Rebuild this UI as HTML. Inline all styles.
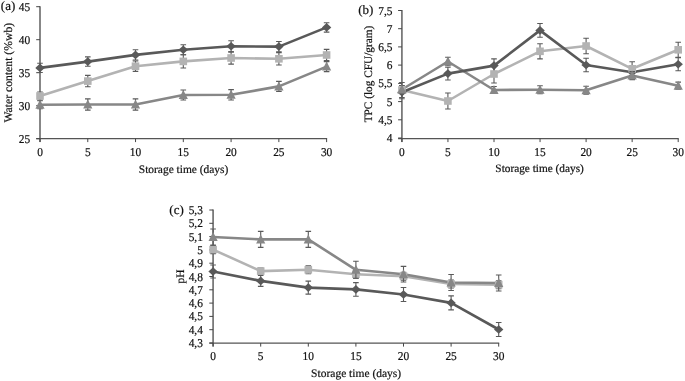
<!DOCTYPE html>
<html><head><meta charset="utf-8"><style>
html,body{margin:0;padding:0;background:#fff;}
svg{display:block;filter:blur(0.4px);}
text{font-family:"Liberation Serif", serif;fill:#111111;text-rendering:geometricPrecision;stroke:#111111;stroke-width:0.2px;}
</style></head><body>
<svg width="685" height="381" viewBox="0 0 685 381">
<rect width="685" height="381" fill="#fff"/>
<line x1="40.0" y1="6.2" x2="40.0" y2="142.1" stroke="#7a7a7a" stroke-width="1.8"/>
<line x1="36.2" y1="138.6" x2="327.12" y2="138.6" stroke="#555555" stroke-width="1.3"/>
<line x1="36.2" y1="6.7" x2="40.0" y2="6.7" stroke="#454545" stroke-width="1"/>
<line x1="36.2" y1="39.7" x2="40.0" y2="39.7" stroke="#454545" stroke-width="1"/>
<line x1="36.2" y1="72.7" x2="40.0" y2="72.7" stroke="#454545" stroke-width="1"/>
<line x1="36.2" y1="105.7" x2="40.0" y2="105.7" stroke="#454545" stroke-width="1"/>
<line x1="36.2" y1="138.7" x2="40.0" y2="138.7" stroke="#454545" stroke-width="1"/>
<line x1="40.0" y1="138.6" x2="40.0" y2="142.1" stroke="#454545" stroke-width="1"/>
<line x1="87.77000000000001" y1="138.6" x2="87.77000000000001" y2="142.1" stroke="#454545" stroke-width="1"/>
<line x1="135.54000000000002" y1="138.6" x2="135.54000000000002" y2="142.1" stroke="#454545" stroke-width="1"/>
<line x1="183.31" y1="138.6" x2="183.31" y2="142.1" stroke="#454545" stroke-width="1"/>
<line x1="231.08" y1="138.6" x2="231.08" y2="142.1" stroke="#454545" stroke-width="1"/>
<line x1="278.85" y1="138.6" x2="278.85" y2="142.1" stroke="#454545" stroke-width="1"/>
<line x1="326.62" y1="138.6" x2="326.62" y2="142.1" stroke="#454545" stroke-width="1"/>
<text transform="translate(30.20,10.70) scale(0.95,1)" text-anchor="end" font-size="12">45</text>
<text transform="translate(30.20,43.70) scale(0.95,1)" text-anchor="end" font-size="12">40</text>
<text transform="translate(30.20,76.70) scale(0.95,1)" text-anchor="end" font-size="12">35</text>
<text transform="translate(30.20,109.70) scale(0.95,1)" text-anchor="end" font-size="12">30</text>
<text transform="translate(30.20,142.70) scale(0.95,1)" text-anchor="end" font-size="12">25</text>
<text transform="translate(40.00,156.00) scale(0.95,1)" text-anchor="middle" font-size="12">0</text>
<text transform="translate(87.77,156.00) scale(0.95,1)" text-anchor="middle" font-size="12">5</text>
<text transform="translate(135.54,156.00) scale(0.95,1)" text-anchor="middle" font-size="12">10</text>
<text transform="translate(183.31,156.00) scale(0.95,1)" text-anchor="middle" font-size="12">15</text>
<text transform="translate(231.08,156.00) scale(0.95,1)" text-anchor="middle" font-size="12">20</text>
<text transform="translate(278.85,156.00) scale(0.95,1)" text-anchor="middle" font-size="12">25</text>
<text transform="translate(326.62,156.00) scale(0.95,1)" text-anchor="middle" font-size="12">30</text>
<text transform="translate(183.55,172.80) scale(1,1)" text-anchor="middle" font-size="11.45">Storage time (days)</text>
<text transform="translate(11.8,72.7) rotate(-90)" text-anchor="middle" font-size="11.7">Water content (%wb)</text>
<text transform="translate(0.80,10.30) scale(1,1)" text-anchor="start" font-size="13">(a)</text>
<polyline points="40.0,96.0 87.8,81.1 135.5,66.2 183.3,61.4 231.1,58.0 278.9,58.8 326.6,55.0" fill="none" stroke="#b3b3b3" stroke-width="2.6" stroke-linejoin="round"/>
<polyline points="40.0,104.8 87.8,104.5 135.5,104.5 183.3,95.0 231.1,94.8 278.9,86.4 326.6,66.6" fill="none" stroke="#878787" stroke-width="2.6" stroke-linejoin="round"/>
<polyline points="40.0,67.9 87.8,61.6 135.5,54.9 183.3,49.8 231.1,46.3 278.9,46.6 326.6,27.4" fill="none" stroke="#595959" stroke-width="2.6" stroke-linejoin="round"/>
<path d="M40.0,63.3V72.5M37.2,63.3h5.6M37.2,72.5h5.6" stroke="#5a5a5a" stroke-width="1.1" fill="none"/>
<path d="M87.8,56.9V66.3M85.0,56.9h5.6M85.0,66.3h5.6" stroke="#5a5a5a" stroke-width="1.1" fill="none"/>
<path d="M135.5,49.8V60.0M132.7,49.8h5.6M132.7,60.0h5.6" stroke="#5a5a5a" stroke-width="1.1" fill="none"/>
<path d="M183.3,44.8V54.8M180.5,44.8h5.6M180.5,54.8h5.6" stroke="#5a5a5a" stroke-width="1.1" fill="none"/>
<path d="M231.1,40.7V51.9M228.3,40.7h5.6M228.3,51.9h5.6" stroke="#5a5a5a" stroke-width="1.1" fill="none"/>
<path d="M278.9,41.5V51.7M276.1,41.5h5.6M276.1,51.7h5.6" stroke="#5a5a5a" stroke-width="1.1" fill="none"/>
<path d="M326.6,22.7V32.1M323.8,22.7h5.6M323.8,32.1h5.6" stroke="#5a5a5a" stroke-width="1.1" fill="none"/>
<path d="M40.0,63.6L44.7,67.9L40.0,72.2L35.3,67.9Z" fill="#595959"/>
<path d="M87.8,57.3L92.5,61.6L87.8,65.9L83.1,61.6Z" fill="#595959"/>
<path d="M135.5,50.6L140.2,54.9L135.5,59.2L130.8,54.9Z" fill="#595959"/>
<path d="M183.3,45.5L188.0,49.8L183.3,54.1L178.6,49.8Z" fill="#595959"/>
<path d="M231.1,42.0L235.8,46.3L231.1,50.6L226.4,46.3Z" fill="#595959"/>
<path d="M278.9,42.3L283.6,46.6L278.9,50.9L274.2,46.6Z" fill="#595959"/>
<path d="M326.6,23.1L331.3,27.4L326.6,31.7L321.9,27.4Z" fill="#595959"/>
<path d="M40.0,92.0V100.0M37.2,92.0h5.6M37.2,100.0h5.6" stroke="#5a5a5a" stroke-width="1.1" fill="none"/>
<path d="M87.8,75.4V86.8M85.0,75.4h5.6M85.0,86.8h5.6" stroke="#5a5a5a" stroke-width="1.1" fill="none"/>
<path d="M135.5,61.0V71.4M132.7,61.0h5.6M132.7,71.4h5.6" stroke="#5a5a5a" stroke-width="1.1" fill="none"/>
<path d="M183.3,54.8V68.0M180.5,54.8h5.6M180.5,68.0h5.6" stroke="#5a5a5a" stroke-width="1.1" fill="none"/>
<path d="M231.1,51.9V64.1M228.3,51.9h5.6M228.3,64.1h5.6" stroke="#5a5a5a" stroke-width="1.1" fill="none"/>
<path d="M278.9,52.6V65.0M276.1,52.6h5.6M276.1,65.0h5.6" stroke="#5a5a5a" stroke-width="1.1" fill="none"/>
<path d="M326.6,49.4V60.6M323.8,49.4h5.6M323.8,60.6h5.6" stroke="#5a5a5a" stroke-width="1.1" fill="none"/>
<rect x="36.2" y="92.2" width="7.6" height="7.6" fill="#b3b3b3"/>
<rect x="84.0" y="77.3" width="7.6" height="7.6" fill="#b3b3b3"/>
<rect x="131.7" y="62.4" width="7.6" height="7.6" fill="#b3b3b3"/>
<rect x="179.5" y="57.6" width="7.6" height="7.6" fill="#b3b3b3"/>
<rect x="227.3" y="54.2" width="7.6" height="7.6" fill="#b3b3b3"/>
<rect x="275.1" y="55.0" width="7.6" height="7.6" fill="#b3b3b3"/>
<rect x="322.8" y="51.2" width="7.6" height="7.6" fill="#b3b3b3"/>
<path d="M40.0,100.8V108.8M37.2,100.8h5.6M37.2,108.8h5.6" stroke="#5a5a5a" stroke-width="1.1" fill="none"/>
<path d="M87.8,98.9V110.1M85.0,98.9h5.6M85.0,110.1h5.6" stroke="#5a5a5a" stroke-width="1.1" fill="none"/>
<path d="M135.5,98.9V110.1M132.7,98.9h5.6M132.7,110.1h5.6" stroke="#5a5a5a" stroke-width="1.1" fill="none"/>
<path d="M183.3,90.0V100.0M180.5,90.0h5.6M180.5,100.0h5.6" stroke="#5a5a5a" stroke-width="1.1" fill="none"/>
<path d="M231.1,89.6V100.0M228.3,89.6h5.6M228.3,100.0h5.6" stroke="#5a5a5a" stroke-width="1.1" fill="none"/>
<path d="M278.9,81.4V91.4M276.1,81.4h5.6M276.1,91.4h5.6" stroke="#5a5a5a" stroke-width="1.1" fill="none"/>
<path d="M326.6,61.6V71.6M323.8,61.6h5.6M323.8,71.6h5.6" stroke="#5a5a5a" stroke-width="1.1" fill="none"/>
<path d="M40.0,99.8L44.6,108.8L35.4,108.8Z" fill="#878787"/>
<path d="M87.8,99.5L92.4,108.5L83.2,108.5Z" fill="#878787"/>
<path d="M135.5,99.5L140.1,108.5L130.9,108.5Z" fill="#878787"/>
<path d="M183.3,90.0L187.9,99.0L178.7,99.0Z" fill="#878787"/>
<path d="M231.1,89.8L235.7,98.8L226.5,98.8Z" fill="#878787"/>
<path d="M278.9,81.4L283.5,90.4L274.2,90.4Z" fill="#878787"/>
<path d="M326.6,61.6L331.2,70.6L322.0,70.6Z" fill="#878787"/>
<line x1="401.9" y1="10.0" x2="401.9" y2="142.1" stroke="#7a7a7a" stroke-width="1.8"/>
<line x1="398.09999999999997" y1="138.6" x2="678.6999999999999" y2="138.6" stroke="#555555" stroke-width="1.3"/>
<line x1="398.09999999999997" y1="10.5" x2="401.9" y2="10.5" stroke="#454545" stroke-width="1"/>
<line x1="398.09999999999997" y1="28.7" x2="401.9" y2="28.7" stroke="#454545" stroke-width="1"/>
<line x1="398.09999999999997" y1="46.9" x2="401.9" y2="46.9" stroke="#454545" stroke-width="1"/>
<line x1="398.09999999999997" y1="65.1" x2="401.9" y2="65.1" stroke="#454545" stroke-width="1"/>
<line x1="398.09999999999997" y1="83.4" x2="401.9" y2="83.4" stroke="#454545" stroke-width="1"/>
<line x1="398.09999999999997" y1="101.6" x2="401.9" y2="101.6" stroke="#454545" stroke-width="1"/>
<line x1="398.09999999999997" y1="119.8" x2="401.9" y2="119.8" stroke="#454545" stroke-width="1"/>
<line x1="398.09999999999997" y1="138.0" x2="401.9" y2="138.0" stroke="#454545" stroke-width="1"/>
<line x1="401.9" y1="138.6" x2="401.9" y2="142.1" stroke="#454545" stroke-width="1"/>
<line x1="447.95" y1="138.6" x2="447.95" y2="142.1" stroke="#454545" stroke-width="1"/>
<line x1="494.0" y1="138.6" x2="494.0" y2="142.1" stroke="#454545" stroke-width="1"/>
<line x1="540.05" y1="138.6" x2="540.05" y2="142.1" stroke="#454545" stroke-width="1"/>
<line x1="586.0999999999999" y1="138.6" x2="586.0999999999999" y2="142.1" stroke="#454545" stroke-width="1"/>
<line x1="632.15" y1="138.6" x2="632.15" y2="142.1" stroke="#454545" stroke-width="1"/>
<line x1="678.1999999999999" y1="138.6" x2="678.1999999999999" y2="142.1" stroke="#454545" stroke-width="1"/>
<text transform="translate(392.50,14.50) scale(0.95,1)" text-anchor="end" font-size="12">7,5</text>
<text transform="translate(392.50,32.70) scale(0.95,1)" text-anchor="end" font-size="12">7</text>
<text transform="translate(392.50,50.90) scale(0.95,1)" text-anchor="end" font-size="12">6,5</text>
<text transform="translate(392.50,69.10) scale(0.95,1)" text-anchor="end" font-size="12">6</text>
<text transform="translate(392.50,87.40) scale(0.95,1)" text-anchor="end" font-size="12">5,5</text>
<text transform="translate(392.50,105.60) scale(0.95,1)" text-anchor="end" font-size="12">5</text>
<text transform="translate(392.50,123.80) scale(0.95,1)" text-anchor="end" font-size="12">4,5</text>
<text transform="translate(392.50,142.00) scale(0.95,1)" text-anchor="end" font-size="12">4</text>
<text transform="translate(401.90,155.50) scale(0.95,1)" text-anchor="middle" font-size="12">0</text>
<text transform="translate(447.95,155.50) scale(0.95,1)" text-anchor="middle" font-size="12">5</text>
<text transform="translate(494.00,155.50) scale(0.95,1)" text-anchor="middle" font-size="12">10</text>
<text transform="translate(540.05,155.50) scale(0.95,1)" text-anchor="middle" font-size="12">15</text>
<text transform="translate(586.10,155.50) scale(0.95,1)" text-anchor="middle" font-size="12">20</text>
<text transform="translate(632.15,155.50) scale(0.95,1)" text-anchor="middle" font-size="12">25</text>
<text transform="translate(678.20,155.50) scale(0.95,1)" text-anchor="middle" font-size="12">30</text>
<text transform="translate(539.60,172.00) scale(1,1)" text-anchor="middle" font-size="11.3">Storage time (days)</text>
<text transform="translate(372,74) rotate(-90)" text-anchor="middle" font-size="11.3">TPC (log CFU/gram)</text>
<text transform="translate(358.20,14.30) scale(1,1)" text-anchor="start" font-size="13">(b)</text>
<polyline points="401.9,90.0 447.9,101.0 494.0,74.0 540.0,51.3 586.1,46.0 632.1,68.8 678.2,49.8" fill="none" stroke="#b3b3b3" stroke-width="2.6" stroke-linejoin="round"/>
<polyline points="401.9,89.5 447.9,61.5 494.0,90.0 540.0,89.7 586.1,90.2 632.1,75.6 678.2,85.7" fill="none" stroke="#878787" stroke-width="2.6" stroke-linejoin="round"/>
<polyline points="401.9,92.3 447.9,73.6 494.0,65.6 540.0,30.4 586.1,65.0 632.1,72.2 678.2,64.3" fill="none" stroke="#595959" stroke-width="2.6" stroke-linejoin="round"/>
<path d="M401.9,85.8V98.8M399.1,85.8h5.6M399.1,98.8h5.6" stroke="#5a5a5a" stroke-width="1.1" fill="none"/>
<path d="M447.9,67.2V80.0M445.1,67.2h5.6M445.1,80.0h5.6" stroke="#5a5a5a" stroke-width="1.1" fill="none"/>
<path d="M494.0,58.9V72.3M491.2,58.9h5.6M491.2,72.3h5.6" stroke="#5a5a5a" stroke-width="1.1" fill="none"/>
<path d="M540.0,23.5V37.3M537.2,23.5h5.6M537.2,37.3h5.6" stroke="#5a5a5a" stroke-width="1.1" fill="none"/>
<path d="M586.1,58.2V71.8M583.3,58.2h5.6M583.3,71.8h5.6" stroke="#5a5a5a" stroke-width="1.1" fill="none"/>
<path d="M632.1,67.2V77.2M629.4,67.2h5.6M629.4,77.2h5.6" stroke="#5a5a5a" stroke-width="1.1" fill="none"/>
<path d="M678.2,57.8V70.8M675.4,57.8h5.6M675.4,70.8h5.6" stroke="#5a5a5a" stroke-width="1.1" fill="none"/>
<path d="M401.9,88.0L406.6,92.3L401.9,96.6L397.2,92.3Z" fill="#595959"/>
<path d="M447.9,69.3L452.6,73.6L447.9,77.9L443.2,73.6Z" fill="#595959"/>
<path d="M494.0,61.3L498.7,65.6L494.0,69.9L489.3,65.6Z" fill="#595959"/>
<path d="M540.0,26.1L544.8,30.4L540.0,34.7L535.3,30.4Z" fill="#595959"/>
<path d="M586.1,60.7L590.8,65.0L586.1,69.3L581.4,65.0Z" fill="#595959"/>
<path d="M632.1,67.9L636.9,72.2L632.1,76.5L627.4,72.2Z" fill="#595959"/>
<path d="M678.2,60.0L682.9,64.3L678.2,68.6L673.5,64.3Z" fill="#595959"/>
<path d="M401.9,82.5V97.5M399.1,82.5h5.6M399.1,97.5h5.6" stroke="#5a5a5a" stroke-width="1.1" fill="none"/>
<path d="M447.9,93.0V109.0M445.1,93.0h5.6M445.1,109.0h5.6" stroke="#5a5a5a" stroke-width="1.1" fill="none"/>
<path d="M494.0,65.0V83.0M491.2,65.0h5.6M491.2,83.0h5.6" stroke="#5a5a5a" stroke-width="1.1" fill="none"/>
<path d="M540.0,43.7V58.9M537.2,43.7h5.6M537.2,58.9h5.6" stroke="#5a5a5a" stroke-width="1.1" fill="none"/>
<path d="M586.1,38.2V53.8M583.3,38.2h5.6M583.3,53.8h5.6" stroke="#5a5a5a" stroke-width="1.1" fill="none"/>
<path d="M632.1,61.8V75.8M629.4,61.8h5.6M629.4,75.8h5.6" stroke="#5a5a5a" stroke-width="1.1" fill="none"/>
<path d="M678.2,42.2V57.4M675.4,42.2h5.6M675.4,57.4h5.6" stroke="#5a5a5a" stroke-width="1.1" fill="none"/>
<rect x="398.1" y="86.2" width="7.6" height="7.6" fill="#b3b3b3"/>
<rect x="444.1" y="97.2" width="7.6" height="7.6" fill="#b3b3b3"/>
<rect x="490.2" y="70.2" width="7.6" height="7.6" fill="#b3b3b3"/>
<rect x="536.2" y="47.5" width="7.6" height="7.6" fill="#b3b3b3"/>
<rect x="582.3" y="42.2" width="7.6" height="7.6" fill="#b3b3b3"/>
<rect x="628.4" y="65.0" width="7.6" height="7.6" fill="#b3b3b3"/>
<rect x="674.4" y="46.0" width="7.6" height="7.6" fill="#b3b3b3"/>
<path d="M401.9,85.5V93.5M399.1,85.5h5.6M399.1,93.5h5.6" stroke="#5a5a5a" stroke-width="1.1" fill="none"/>
<path d="M447.9,57.3V65.7M445.1,57.3h5.6M445.1,65.7h5.6" stroke="#5a5a5a" stroke-width="1.1" fill="none"/>
<path d="M494.0,86.5V93.5M491.2,86.5h5.6M491.2,93.5h5.6" stroke="#5a5a5a" stroke-width="1.1" fill="none"/>
<path d="M540.0,85.7V93.7M537.2,85.7h5.6M537.2,93.7h5.6" stroke="#5a5a5a" stroke-width="1.1" fill="none"/>
<path d="M586.1,86.2V94.2M583.3,86.2h5.6M583.3,94.2h5.6" stroke="#5a5a5a" stroke-width="1.1" fill="none"/>
<path d="M632.1,71.6V79.6M629.4,71.6h5.6M629.4,79.6h5.6" stroke="#5a5a5a" stroke-width="1.1" fill="none"/>
<path d="M678.2,82.1V89.3M675.4,82.1h5.6M675.4,89.3h5.6" stroke="#5a5a5a" stroke-width="1.1" fill="none"/>
<path d="M401.9,84.5L406.5,93.5L397.3,93.5Z" fill="#878787"/>
<path d="M447.9,56.5L452.6,65.5L443.3,65.5Z" fill="#878787"/>
<path d="M494.0,85.0L498.6,94.0L489.4,94.0Z" fill="#878787"/>
<path d="M540.0,84.7L544.6,93.7L535.4,93.7Z" fill="#878787"/>
<path d="M586.1,85.2L590.7,94.2L581.5,94.2Z" fill="#878787"/>
<path d="M632.1,70.6L636.8,79.6L627.5,79.6Z" fill="#878787"/>
<path d="M678.2,80.7L682.8,89.7L673.6,89.7Z" fill="#878787"/>
<line x1="213.1" y1="209.5" x2="213.1" y2="346.6" stroke="#7a7a7a" stroke-width="1.8"/>
<line x1="209.29999999999998" y1="343.1" x2="499.20000000000005" y2="343.1" stroke="#555555" stroke-width="1.3"/>
<line x1="209.29999999999998" y1="210.0" x2="213.1" y2="210.0" stroke="#454545" stroke-width="1"/>
<line x1="209.29999999999998" y1="223.3" x2="213.1" y2="223.3" stroke="#454545" stroke-width="1"/>
<line x1="209.29999999999998" y1="236.6" x2="213.1" y2="236.6" stroke="#454545" stroke-width="1"/>
<line x1="209.29999999999998" y1="249.9" x2="213.1" y2="249.9" stroke="#454545" stroke-width="1"/>
<line x1="209.29999999999998" y1="263.2" x2="213.1" y2="263.2" stroke="#454545" stroke-width="1"/>
<line x1="209.29999999999998" y1="276.5" x2="213.1" y2="276.5" stroke="#454545" stroke-width="1"/>
<line x1="209.29999999999998" y1="289.8" x2="213.1" y2="289.8" stroke="#454545" stroke-width="1"/>
<line x1="209.29999999999998" y1="303.1" x2="213.1" y2="303.1" stroke="#454545" stroke-width="1"/>
<line x1="209.29999999999998" y1="316.4" x2="213.1" y2="316.4" stroke="#454545" stroke-width="1"/>
<line x1="209.29999999999998" y1="329.7" x2="213.1" y2="329.7" stroke="#454545" stroke-width="1"/>
<line x1="209.29999999999998" y1="343.0" x2="213.1" y2="343.0" stroke="#454545" stroke-width="1"/>
<line x1="213.1" y1="343.1" x2="213.1" y2="346.6" stroke="#454545" stroke-width="1"/>
<line x1="260.7" y1="343.1" x2="260.7" y2="346.6" stroke="#454545" stroke-width="1"/>
<line x1="308.3" y1="343.1" x2="308.3" y2="346.6" stroke="#454545" stroke-width="1"/>
<line x1="355.9" y1="343.1" x2="355.9" y2="346.6" stroke="#454545" stroke-width="1"/>
<line x1="403.5" y1="343.1" x2="403.5" y2="346.6" stroke="#454545" stroke-width="1"/>
<line x1="451.1" y1="343.1" x2="451.1" y2="346.6" stroke="#454545" stroke-width="1"/>
<line x1="498.70000000000005" y1="343.1" x2="498.70000000000005" y2="346.6" stroke="#454545" stroke-width="1"/>
<text transform="translate(202.90,214.00) scale(0.95,1)" text-anchor="end" font-size="12">5,3</text>
<text transform="translate(202.90,227.30) scale(0.95,1)" text-anchor="end" font-size="12">5,2</text>
<text transform="translate(202.90,240.60) scale(0.95,1)" text-anchor="end" font-size="12">5,1</text>
<text transform="translate(202.90,253.90) scale(0.95,1)" text-anchor="end" font-size="12">5</text>
<text transform="translate(202.90,267.20) scale(0.95,1)" text-anchor="end" font-size="12">4,9</text>
<text transform="translate(202.90,280.50) scale(0.95,1)" text-anchor="end" font-size="12">4,8</text>
<text transform="translate(202.90,293.80) scale(0.95,1)" text-anchor="end" font-size="12">4,7</text>
<text transform="translate(202.90,307.10) scale(0.95,1)" text-anchor="end" font-size="12">4,6</text>
<text transform="translate(202.90,320.40) scale(0.95,1)" text-anchor="end" font-size="12">4,5</text>
<text transform="translate(202.90,333.70) scale(0.95,1)" text-anchor="end" font-size="12">4,4</text>
<text transform="translate(202.90,347.00) scale(0.95,1)" text-anchor="end" font-size="12">4,3</text>
<text transform="translate(213.10,360.00) scale(0.95,1)" text-anchor="middle" font-size="12">0</text>
<text transform="translate(260.70,360.00) scale(0.95,1)" text-anchor="middle" font-size="12">5</text>
<text transform="translate(308.30,360.00) scale(0.95,1)" text-anchor="middle" font-size="12">10</text>
<text transform="translate(355.90,360.00) scale(0.95,1)" text-anchor="middle" font-size="12">15</text>
<text transform="translate(403.50,360.00) scale(0.95,1)" text-anchor="middle" font-size="12">20</text>
<text transform="translate(451.10,360.00) scale(0.95,1)" text-anchor="middle" font-size="12">25</text>
<text transform="translate(498.70,360.00) scale(0.95,1)" text-anchor="middle" font-size="12">30</text>
<text transform="translate(356.15,377.00) scale(1,1)" text-anchor="middle" font-size="11.5">Storage time (days)</text>
<text transform="translate(183.5,276.5) rotate(-90)" text-anchor="middle" font-size="11.4">pH</text>
<text transform="translate(169.30,213.60) scale(1,1)" text-anchor="start" font-size="13">(c)</text>
<polyline points="213.1,249.6 260.7,271.1 308.3,269.8 355.9,274.2 403.5,276.2 451.1,284.0 498.7,284.7" fill="none" stroke="#b3b3b3" stroke-width="2.6" stroke-linejoin="round"/>
<polyline points="213.1,237.0 260.7,239.4 308.3,239.4 355.9,269.8 403.5,274.2 451.1,282.5 498.7,283.0" fill="none" stroke="#878787" stroke-width="2.6" stroke-linejoin="round"/>
<polyline points="213.1,271.5 260.7,280.9 308.3,287.6 355.9,289.4 403.5,294.5 451.1,302.9 498.7,329.5" fill="none" stroke="#595959" stroke-width="2.6" stroke-linejoin="round"/>
<path d="M213.1,265.0V278.0M210.3,265.0h5.6M210.3,278.0h5.6" stroke="#5a5a5a" stroke-width="1.1" fill="none"/>
<path d="M260.7,275.4V286.4M257.9,275.4h5.6M257.9,286.4h5.6" stroke="#5a5a5a" stroke-width="1.1" fill="none"/>
<path d="M308.3,281.1V294.1M305.5,281.1h5.6M305.5,294.1h5.6" stroke="#5a5a5a" stroke-width="1.1" fill="none"/>
<path d="M355.9,282.6V296.2M353.1,282.6h5.6M353.1,296.2h5.6" stroke="#5a5a5a" stroke-width="1.1" fill="none"/>
<path d="M403.5,287.5V301.5M400.7,287.5h5.6M400.7,301.5h5.6" stroke="#5a5a5a" stroke-width="1.1" fill="none"/>
<path d="M451.1,295.9V309.9M448.3,295.9h5.6M448.3,309.9h5.6" stroke="#5a5a5a" stroke-width="1.1" fill="none"/>
<path d="M498.7,322.5V336.5M495.9,322.5h5.6M495.9,336.5h5.6" stroke="#5a5a5a" stroke-width="1.1" fill="none"/>
<path d="M213.1,267.2L217.8,271.5L213.1,275.8L208.4,271.5Z" fill="#595959"/>
<path d="M260.7,276.6L265.4,280.9L260.7,285.2L256.0,280.9Z" fill="#595959"/>
<path d="M308.3,283.3L313.0,287.6L308.3,291.9L303.6,287.6Z" fill="#595959"/>
<path d="M355.9,285.1L360.6,289.4L355.9,293.7L351.2,289.4Z" fill="#595959"/>
<path d="M403.5,290.2L408.2,294.5L403.5,298.8L398.8,294.5Z" fill="#595959"/>
<path d="M451.1,298.6L455.8,302.9L451.1,307.2L446.4,302.9Z" fill="#595959"/>
<path d="M498.7,325.2L503.4,329.5L498.7,333.8L494.0,329.5Z" fill="#595959"/>
<path d="M213.1,245.6V253.6M210.3,245.6h5.6M210.3,253.6h5.6" stroke="#5a5a5a" stroke-width="1.1" fill="none"/>
<path d="M260.7,268.1V274.1M257.9,268.1h5.6M257.9,274.1h5.6" stroke="#5a5a5a" stroke-width="1.1" fill="none"/>
<path d="M308.3,265.8V273.8M305.5,265.8h5.6M305.5,273.8h5.6" stroke="#5a5a5a" stroke-width="1.1" fill="none"/>
<path d="M355.9,270.2V278.2M353.1,270.2h5.6M353.1,278.2h5.6" stroke="#5a5a5a" stroke-width="1.1" fill="none"/>
<path d="M403.5,272.2V280.2M400.7,272.2h5.6M400.7,280.2h5.6" stroke="#5a5a5a" stroke-width="1.1" fill="none"/>
<path d="M451.1,280.0V288.0M448.3,280.0h5.6M448.3,288.0h5.6" stroke="#5a5a5a" stroke-width="1.1" fill="none"/>
<path d="M498.7,280.7V288.7M495.9,280.7h5.6M495.9,288.7h5.6" stroke="#5a5a5a" stroke-width="1.1" fill="none"/>
<rect x="209.3" y="245.8" width="7.6" height="7.6" fill="#b3b3b3"/>
<rect x="256.9" y="267.3" width="7.6" height="7.6" fill="#b3b3b3"/>
<rect x="304.5" y="266.0" width="7.6" height="7.6" fill="#b3b3b3"/>
<rect x="352.1" y="270.4" width="7.6" height="7.6" fill="#b3b3b3"/>
<rect x="399.7" y="272.4" width="7.6" height="7.6" fill="#b3b3b3"/>
<rect x="447.3" y="280.2" width="7.6" height="7.6" fill="#b3b3b3"/>
<rect x="494.9" y="280.9" width="7.6" height="7.6" fill="#b3b3b3"/>
<path d="M213.1,229.0V245.0M210.3,229.0h5.6M210.3,245.0h5.6" stroke="#5a5a5a" stroke-width="1.1" fill="none"/>
<path d="M260.7,231.4V247.4M257.9,231.4h5.6M257.9,247.4h5.6" stroke="#5a5a5a" stroke-width="1.1" fill="none"/>
<path d="M308.3,231.4V247.4M305.5,231.4h5.6M305.5,247.4h5.6" stroke="#5a5a5a" stroke-width="1.1" fill="none"/>
<path d="M355.9,261.3V278.3M353.1,261.3h5.6M353.1,278.3h5.6" stroke="#5a5a5a" stroke-width="1.1" fill="none"/>
<path d="M403.5,266.4V282.0M400.7,266.4h5.6M400.7,282.0h5.6" stroke="#5a5a5a" stroke-width="1.1" fill="none"/>
<path d="M451.1,274.5V290.5M448.3,274.5h5.6M448.3,290.5h5.6" stroke="#5a5a5a" stroke-width="1.1" fill="none"/>
<path d="M498.7,275.0V291.0M495.9,275.0h5.6M495.9,291.0h5.6" stroke="#5a5a5a" stroke-width="1.1" fill="none"/>
<path d="M213.1,232.0L217.7,241.0L208.5,241.0Z" fill="#878787"/>
<path d="M260.7,234.4L265.3,243.4L256.1,243.4Z" fill="#878787"/>
<path d="M308.3,234.4L312.9,243.4L303.7,243.4Z" fill="#878787"/>
<path d="M355.9,264.8L360.5,273.8L351.3,273.8Z" fill="#878787"/>
<path d="M403.5,269.2L408.1,278.2L398.9,278.2Z" fill="#878787"/>
<path d="M451.1,277.5L455.7,286.5L446.5,286.5Z" fill="#878787"/>
<path d="M498.7,278.0L503.3,287.0L494.1,287.0Z" fill="#878787"/>
</svg>
</body></html>
